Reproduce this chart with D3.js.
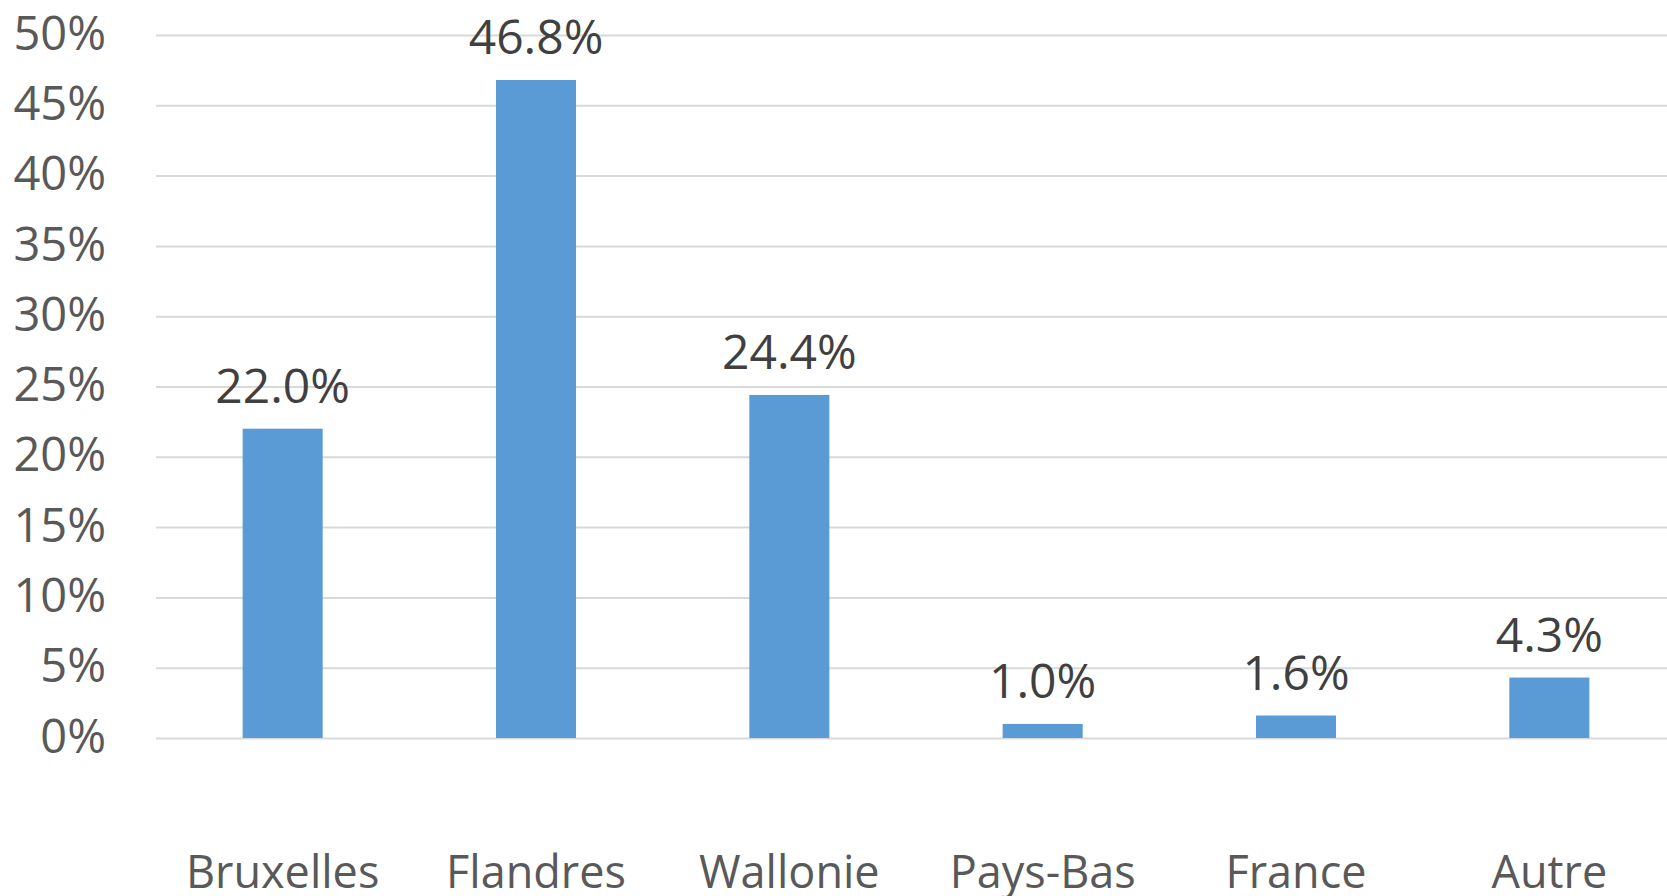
<!DOCTYPE html>
<html>
<head>
<meta charset="utf-8">
<script src="https://cdnjs.cloudflare.com/ajax/libs/d3/7.8.5/d3.min.js"></script>
<style>
    body { margin: 0; background: #fff; overflow: hidden; }
    text { font-family: "Open Sans", "Noto Sans", sans-serif; }
</style>
</head>
<body>
<div id="chart"></div>
<script>
// data
var categories = ["Bruxelles", "Flandres", "Wallonie", "Pays-Bas", "France", "Autre"];
var values = [22.0, 46.8, 24.4, 1.0, 1.6, 4.3];
var yTicks = [0, 5, 10, 15, 20, 25, 30, 35, 40, 45, 50];

var W = 1667, H = 896;
var margin = {top: 35, left: 156, bottom: 158};

var svg = d3.select("#chart")
    .append("svg")
    .attr("width", W)
    .attr("height", H);

// plot runs a little past the right edge of the window, like the original
var x = d3.scaleBand()
    .domain(categories)
    .range([margin.left, 1676])
    .paddingInner(0.684)
    .paddingOuter(0.342);

var y = d3.scaleLinear()
    .domain([0, 50])
    .range([H - margin.bottom, margin.top]);

// gridlines
var grid = d3.axisLeft(y)
    .tickValues(yTicks)
    .tickSize(-(W - margin.left))
    .tickFormat("");

svg.append("g")
    .attr("class", "grid")
    .attr("transform", "translate(" + margin.left + ",0)")
    .call(grid)
    .call(function(g){
        g.select(".domain").remove();
        g.selectAll("line").attr("stroke", "#d9d9d9").attr("stroke-width", 2);
    });

// y axis labels
var yAxis = d3.axisLeft(y)
    .tickValues(yTicks)
    .tickSize(0)
    .tickPadding(0)
    .tickFormat(function(d){ return d + "%"; });

svg.append("g")
    .attr("transform", "translate(106,0)")
    .call(yAxis)
    .call(function(g){
        g.select(".domain").remove();
        g.selectAll("text")
            .attr("fill", "#595959")
            .style("font-size", "47px")
            .attr("dy", "0.3em");
    });

// bars
svg.selectAll(".bar")
    .data(values)
    .enter().append("rect")
    .attr("class", "bar")
    .attr("x", function(d, i){ return x(categories[i]); })
    .attr("y", function(d){ return y(d); })
    .attr("width", x.bandwidth())
    .attr("height", function(d){ return y(0) - y(d); })
    .attr("fill", "#5b9bd5");

// value labels
svg.selectAll(".val")
    .data(values)
    .enter().append("text")
    .attr("class", "val")
    .attr("x", function(d, i){ return x(categories[i]) + x.bandwidth() / 2; })
    .attr("y", function(d){ return y(d) - 26; })
    .attr("text-anchor", "middle")
    .attr("fill", "#404040")
    .style("font-size", "48px")
    .text(function(d){ return d.toFixed(1) + "%"; });

// category labels
var xAxis = d3.axisBottom(x).tickSize(0).tickPadding(0);

svg.append("g")
    .attr("transform", "translate(0,888)")
    .call(xAxis)
    .call(function(g){
        g.select(".domain").remove();
        g.selectAll("text")
            .attr("dy", 0)
            .attr("fill", "#595959")
            .style("font-size", "45px");
    });
</script>
</body>
</html>
